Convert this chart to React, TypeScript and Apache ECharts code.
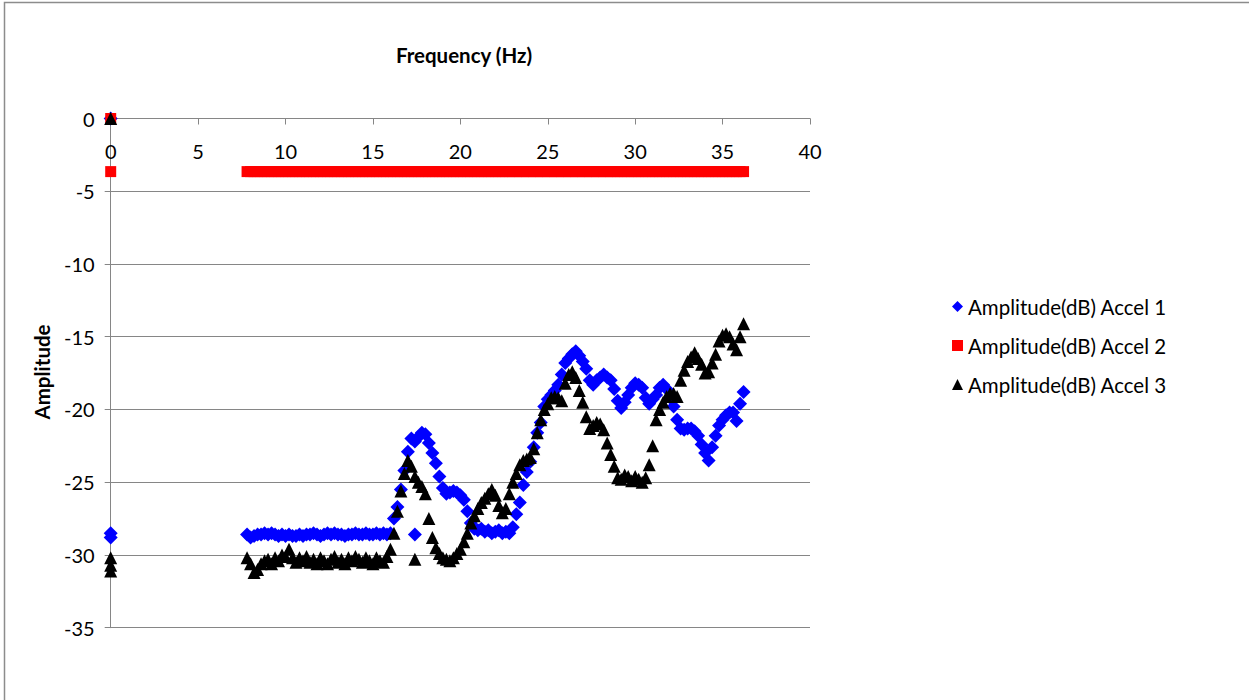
import React, { useEffect, useRef } from "react";
import * as echarts from "echarts";

const FONT = "Lato, 'Noto Sans', sans-serif";

const seriesNames = ["Amplitude(dB) Accel 1", "Amplitude(dB) Accel 2", "Amplitude(dB) Accel 3"];
const xTitle = "Frequency (Hz)";
const yTitle = "Amplitude";

const frequencies = [
  7.8, 8.0, 8.2, 8.4, 8.6, 8.8, 9.0, 9.2, 9.4, 9.6,
  9.8, 10.0, 10.2, 10.4, 10.6, 10.8, 11.0, 11.2, 11.4, 11.6,
  11.8, 12.0, 12.2, 12.4, 12.6, 12.8, 13.0, 13.2, 13.4, 13.6,
  13.8, 14.0, 14.2, 14.4, 14.6, 14.8, 15.0, 15.2, 15.4, 15.6,
  15.8, 16.0, 16.2, 16.4, 16.6, 16.8, 17.0, 17.2, 17.4, 17.6,
  17.8, 18.0, 18.2, 18.4, 18.6, 18.8, 19.0, 19.2, 19.4, 19.6,
  19.8, 20.0, 20.2, 20.4, 20.6, 20.8, 21.0, 21.2, 21.4, 21.6,
  21.8, 22.0, 22.2, 22.4, 22.6, 22.8, 23.0, 23.2, 23.4, 23.6,
  23.8, 24.0, 24.2, 24.4, 24.6, 24.8, 25.0, 25.2, 25.4, 25.6,
  25.8, 26.0, 26.2, 26.4, 26.6, 26.8, 27.0, 27.2, 27.4, 27.6,
  27.8, 28.0, 28.2, 28.4, 28.6, 28.8, 29.0, 29.2, 29.4, 29.6,
  29.8, 30.0, 30.2, 30.4, 30.6, 30.8, 31.0, 31.2, 31.4, 31.6,
  31.8, 32.0, 32.2, 32.4, 32.6, 32.8, 33.0, 33.2, 33.4, 33.6,
  33.8, 34.0, 34.2, 34.4, 34.6, 34.8, 35.0, 35.2, 35.4, 35.6,
  35.8, 36.0, 36.2,
];

const accel1 = [
  -28.6, -28.8, -28.7, -28.6, -28.6, -28.5, -28.6, -28.5, -28.6, -28.7,
  -28.6, -28.7, -28.6, -28.7, -28.7, -28.6, -28.7, -28.6, -28.6, -28.5,
  -28.6, -28.7, -28.6, -28.5, -28.6, -28.5, -28.6, -28.6, -28.7, -28.6,
  -28.6, -28.5, -28.6, -28.6, -28.5, -28.6, -28.6, -28.5, -28.6, -28.5,
  -28.6, -28.5, -27.5, -26.7, -25.5, -24.2, -22.9, -22.0, -22.2, -21.9,
  -21.6, -21.7, -22.3, -23.0, -23.7, -24.6, -25.4, -25.8, -25.7, -25.6,
  -25.7, -25.9, -26.2, -27.0, -27.8, -28.2, -28.3, -28.2, -28.4, -28.3,
  -28.5, -28.4, -28.3, -28.5, -28.4, -28.5, -28.1, -27.2, -26.4, -25.2,
  -24.3, -23.6, -22.6, -21.6, -20.9, -19.8, -19.3, -19.0, -18.7, -18.3,
  -17.6, -16.8, -16.5, -16.2, -16.0, -16.3, -16.7, -17.2, -18.0, -18.3,
  -18.0, -17.8, -17.6, -17.8, -18.0, -18.6, -19.4, -19.9, -19.5, -19.0,
  -18.5, -18.2, -18.3, -18.5, -19.2, -19.6, -19.3, -19.0, -18.5, -18.3,
  -18.6, -19.2, -19.8, -20.7, -21.3, -21.4, -21.3, -21.3, -21.5, -21.8,
  -22.4, -23.0, -23.5, -22.6, -21.8, -21.1, -20.7, -20.4, -20.2, -20.2,
  -20.8, -19.6, -18.8,
];

const accel2 = [
  -3.65, -3.65, -3.65, -3.65, -3.65, -3.65, -3.65, -3.65, -3.65, -3.65,
  -3.65, -3.65, -3.65, -3.65, -3.65, -3.65, -3.65, -3.65, -3.65, -3.65,
  -3.65, -3.65, -3.65, -3.65, -3.65, -3.65, -3.65, -3.65, -3.65, -3.65,
  -3.65, -3.65, -3.65, -3.65, -3.65, -3.65, -3.65, -3.65, -3.65, -3.65,
  -3.65, -3.65, -3.65, -3.65, -3.65, -3.65, -3.65, -3.65, -3.65, -3.65,
  -3.65, -3.65, -3.65, -3.65, -3.65, -3.65, -3.65, -3.65, -3.65, -3.65,
  -3.65, -3.65, -3.65, -3.65, -3.65, -3.65, -3.65, -3.65, -3.65, -3.65,
  -3.65, -3.65, -3.65, -3.65, -3.65, -3.65, -3.65, -3.65, -3.65, -3.65,
  -3.65, -3.65, -3.65, -3.65, -3.65, -3.65, -3.65, -3.65, -3.65, -3.65,
  -3.65, -3.65, -3.65, -3.65, -3.65, -3.65, -3.65, -3.65, -3.65, -3.65,
  -3.65, -3.65, -3.65, -3.65, -3.65, -3.65, -3.65, -3.65, -3.65, -3.65,
  -3.65, -3.65, -3.65, -3.65, -3.65, -3.65, -3.65, -3.65, -3.65, -3.65,
  -3.65, -3.65, -3.65, -3.65, -3.65, -3.65, -3.65, -3.65, -3.65, -3.65,
  -3.65, -3.65, -3.65, -3.65, -3.65, -3.65, -3.65, -3.65, -3.65, -3.65,
  -3.65, -3.65, -3.65,
];

const accel3 = [
  -30.2, -30.6, -31.2, -31.0, -30.6, -30.4, -30.3, -30.6, -30.2, -30.4,
  -30.0, -30.1, -29.6, -30.2, -30.5, -30.2, -30.4, -30.1, -30.5, -30.3,
  -30.6, -30.2, -30.4, -30.6, -30.3, -30.1, -30.5, -30.3, -30.6, -30.2,
  -30.4, -30.1, -30.3, -30.5, -30.2, -30.4, -30.6, -30.2, -30.4, -30.5,
  -30.1, -29.6, -28.5, -27.0, -25.6, -24.4, -23.5, -23.9, -24.6, -25.0,
  -25.3, -25.8, -27.5, -28.8, -29.5, -29.9, -30.2, -30.3, -30.4, -30.2,
  -29.9, -29.6, -29.1, -28.5, -27.8, -27.3, -26.8, -26.4, -26.1, -25.8,
  -25.5, -25.9, -26.6, -27.1, -26.8, -25.8, -25.0, -24.4, -23.8, -23.5,
  -23.4, -23.3, -22.7, -21.6, -20.7, -20.0, -19.6, -19.2, -19.1, -19.2,
  -19.4, -18.2, -17.6, -17.4, -17.8, -18.7, -19.5, -20.5, -21.3, -21.1,
  -20.9, -21.0, -21.4, -22.3, -23.1, -23.9, -24.7, -24.8, -24.5, -24.6,
  -24.9, -24.6, -24.8, -25.0, -24.7, -23.8, -22.5, -20.7, -20.0, -19.5,
  -19.1, -18.9, -18.9, -19.1, -18.0, -17.3, -16.7, -16.4, -16.1, -16.5,
  -16.9, -17.5, -17.4, -16.8, -16.2, -15.3, -14.9, -14.8, -15.0, -15.5,
  -15.9, -15.0, -14.1,
];

// isolated readings (zero-frequency rows and stray points)
const accel1Extra = [[0, 0], [0, -28.5], [0, -28.8], [17.4, -28.6]];
const accel2Extra = [[0, 0], [0, -3.65]];
const accel3Extra = [[0, 0], [0, -30.2], [0, -30.7], [0, -31.1], [17.4, -30.3]];

const xTicks = { min: 0, max: 40, interval: 5 };
const yTicks = { min: -35, max: 0, interval: 5 };

const GRID_COLOR = "#868686";

function pairs(extra: number[][], vals: number[]) {
  return extra.concat(frequencies.map((f, i) => [f, vals[i]]));
}

export default function App() {
  const ref = useRef<HTMLDivElement>(null);
  useEffect(() => {
    if (!ref.current) return;
    const chart = echarts.init(ref.current, undefined, { renderer: "svg" });
    const option: any = {
      animation: false,
      backgroundColor: "#ffffff",
      grid: { left: 110.7, right: 439, top: 118.5, bottom: 72.3 },
      xAxis: {
        type: "value",
        position: "top",
        min: xTicks.min,
        max: xTicks.max,
        interval: xTicks.interval,
        axisLine: { show: true, onZero: false, lineStyle: { color: GRID_COLOR, width: 1 } },
        axisTick: { show: true, inside: true, length: 6, lineStyle: { color: GRID_COLOR } },
        axisLabel: { inside: true, margin: 22, fontFamily: FONT, fontSize: 20, color: "#000" },
        splitLine: { show: false },
      },
      yAxis: {
        type: "value",
        min: yTicks.min,
        max: yTicks.max,
        interval: yTicks.interval,
        axisLine: { show: true, onZero: false, lineStyle: { color: GRID_COLOR, width: 1 } },
        axisTick: { show: true, length: 6, lineStyle: { color: GRID_COLOR } },
        axisLabel: { margin: 16, fontFamily: FONT, fontSize: 20, color: "#000" },
        splitLine: { show: true, lineStyle: { color: GRID_COLOR, width: 1 } },
      },
      legend: {
        orient: "vertical",
        left: 947,
        top: 291,
        itemWidth: 11,
        itemHeight: 11,
        itemGap: 18,
        textStyle: { fontFamily: FONT, fontSize: 20.5, color: "#000" },
        itemStyle: { opacity: 1 },
        data: seriesNames,
      },
      series: [
        {
          name: seriesNames[0],
          type: "scatter",
          symbol: "diamond",
          symbolSize: 14,
          itemStyle: { color: "#0000FF", opacity: 1 },
          data: pairs(accel1Extra, accel1),
        },
        {
          name: seriesNames[1],
          type: "scatter",
          symbol: "rect",
          symbolSize: 11,
          itemStyle: { color: "#FF0000", opacity: 1 },
          data: pairs(accel2Extra, accel2),
        },
        {
          name: seriesNames[2],
          type: "scatter",
          symbol: "triangle",
          symbolSize: 13,
          itemStyle: { color: "#000000", opacity: 1 },
          data: pairs(accel3Extra, accel3),
        },
      ],
      graphic: [
        {
          type: "rect",
          shape: { x: 4.5, y: 2.5, width: 1400, height: 900 },
          style: { fill: "none", stroke: "#8c8c8c", lineWidth: 1.5 },
          silent: true,
        },
        {
          type: "text",
          x: 464,
          y: 55,
          style: {
            text: xTitle,
            fontFamily: FONT,
            fontSize: 20.5,
            fontWeight: "bold",
            fill: "#000",
            textAlign: "center",
            textVerticalAlign: "middle",
          },
        },
        {
          type: "text",
          x: 42,
          y: 372,
          rotation: Math.PI / 2,
          style: {
            text: yTitle,
            fontFamily: FONT,
            fontSize: 20.5,
            fontWeight: "bold",
            fill: "#000",
            textAlign: "center",
            textVerticalAlign: "middle",
          },
        },
      ],
    };
    chart.setOption(option);
    return () => chart.dispose();
  }, []);
  return (
    <div
      ref={ref}
      style={{ position: "fixed", left: 0, top: 0, width: 1249, height: 700, background: "#fff" }}
    />
  );
}
